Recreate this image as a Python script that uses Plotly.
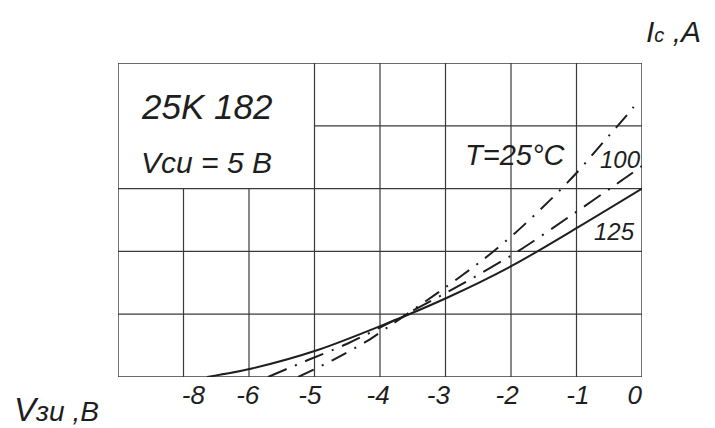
import numpy as np
import plotly.graph_objects as go

# ---- data (gate-source voltage in volts, drain current in grid divisions) ----
tick_volts = [-8, -6, -5, -4, -3, -2, -1, 0]
tick_labels = ["-8", "-6", "-5", "-4", "-3", "-2", "-1", "0"]

v_25 = [-5.25, -4.72, -4.20, -3.83, -3.01, -2.40, -1.94, -1.40, -0.99, -0.60, -0.23, -0.06]
ic_25 = [0.0, 0.27, 0.57, 0.83, 1.42, 1.89, 2.29, 2.82, 3.26, 3.73, 4.17, 4.39]

v_100 = [-5.71, -5.10, -4.50, -3.75, -2.75, -1.91, -1.10, -0.31, 0.0]
ic_100 = [0.0, 0.27, 0.53, 0.92, 1.48, 1.99, 2.56, 3.13, 3.36]

v_125 = [-7.28, -5.94, -4.95, -3.95, -2.96, -1.97, -1.0, 0.0]
ic_125 = [0.0, 0.14, 0.43, 0.83, 1.27, 1.78, 2.37, 3.0]

# the printed voltage scale is non-uniform: each tick sits on one grid column
grid_cols = [1, 2, 3, 4, 5, 6, 7, 8]


def vpos(v):
    return np.interp(v, tick_volts, grid_cols)


FONT = "Liberation Sans, Arial, sans-serif"
INK = "#1e1e1e"
GRID = "#3a3a3a"

fig = go.Figure()

fig.add_trace(go.Scatter(x=vpos(v_125), y=ic_125, mode="lines", name="125",
                         line=dict(color=INK, width=2, shape="spline", smoothing=0.8)))
fig.add_trace(go.Scatter(x=vpos(v_100), y=ic_100, mode="lines", name="100",
                         line=dict(color=INK, width=2, shape="spline", smoothing=0.8,
                                   dash="20px,9px,2px,9px")))
fig.add_trace(go.Scatter(x=vpos(v_25), y=ic_25, mode="lines", name="T=25°C",
                         line=dict(color=INK, width=2, shape="spline", smoothing=0.8,
                                   dash="17px,9px,2px,9px")))

# ---- grid (with the empty title box at upper left) ----
shapes = []


def seg(x0, y0, x1, y1, w=1.2):
    shapes.append(dict(type="line", xref="x", yref="y", x0=x0, y0=y0, x1=x1, y1=y1,
                       line=dict(color=GRID, width=w), layer="below"))


# verticals
seg(0, 0, 0, 5, 1.4)
seg(8, 0, 8, 5, 1.4)
for c in (1, 2):
    seg(c, 0, c, 3)
for c in (3, 4, 5, 6, 7):
    seg(c, 0, c, 5)
# horizontals
seg(0, 0, 8, 0, 1.4)
seg(0, 5, 8, 5, 1.4)
for r in (1, 2):
    seg(0, r, 8.04, r)
seg(-0.03, 3, 8.04, 3)
seg(3, 4, 8.06, 4)

fig.update_layout(shapes=shapes)

# ---- annotations ----
ann = [
    dict(x=0.32, y=4.30, xref="x", yref="y", text="25K 182", size=35),
    dict(x=0.32, y=3.41, xref="x", yref="y", text="Vcu = 5 B", size=30),
    dict(x=5.27, y=3.53, xref="x", yref="y", text="T=25°C", size=29),
    dict(x=7.33, y=3.47, xref="x", yref="y", text="100", size=24),
    dict(x=7.24, y=2.31, xref="x", yref="y", text="125", size=24),
    dict(x=1.004, y=1.10, xref="paper", yref="paper",
         text="I<span style='font-size:20px'>c</span> ,A", size=30),
    dict(x=-0.203, y=-0.105, xref="paper", yref="paper",
         text="<span style='font-size:33px'>V</span>зu ,B", size=28),
]
for a in ann:
    fig.add_annotation(x=a["x"], y=a["y"], xref=a["xref"], yref=a["yref"], text=a["text"],
                       showarrow=False, xanchor="left", yanchor="middle",
                       font=dict(family=FONT, size=a["size"], color=INK, style="italic"))

label_pos = [1.15, 1.98, 2.93, 3.97, 4.89, 5.94, 7.02, 7.89]

fig.update_xaxes(range=[0, 8], showgrid=False, zeroline=False, showline=False,
                 tickmode="array", tickvals=label_pos, ticktext=tick_labels, ticks="",
                 tickfont=dict(family=FONT, size=26, color=INK, style="italic"))
fig.update_yaxes(range=[0, 5], showgrid=False, zeroline=False, showline=False,
                 showticklabels=False, ticks="")

# page adds an 8px body margin, so the figure is drawn 8px smaller
fig.update_layout(width=707, height=420, margin=dict(l=110, r=73, t=55, b=51),
                  paper_bgcolor="white", plot_bgcolor="white", showlegend=False)

fig.write_html("out.html")
